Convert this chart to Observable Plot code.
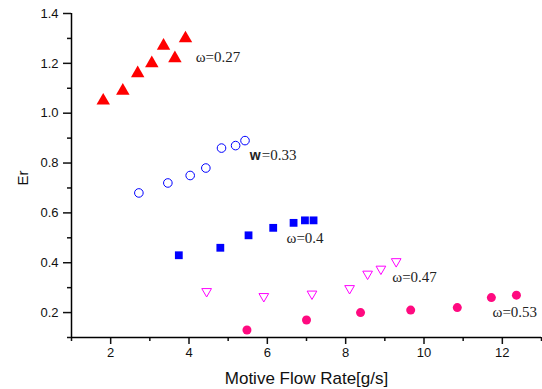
<!DOCTYPE html>
<html>
<head>
<meta charset="utf-8">
<script src="https://cdn.jsdelivr.net/npm/d3@7"></script>
<script src="https://cdn.jsdelivr.net/npm/@observablehq/plot@0.6"></script>
<style>
  html, body { margin: 0; padding: 0; background: #fff; }
  svg { display: block; }
</style>
</head>
<body>
<div id="chart"></div>
<script>
// ω = 0.27 (filled red triangles)
const s027x = [1.81, 2.31, 2.69, 3.05, 3.35, 3.64, 3.91];
const s027y = [1.05, 1.09, 1.16, 1.20, 1.27, 1.22, 1.30];
// ω = 0.33 (open blue circles)
const s033x = [2.72, 3.46, 4.03, 4.43, 4.83, 5.19, 5.43];
const s033y = [0.68, 0.72, 0.75, 0.78, 0.86, 0.87, 0.89];
// ω = 0.4 (filled blue squares)
const s040x = [3.74, 4.80, 5.52, 6.15, 6.67, 6.96, 7.18];
const s040y = [0.43, 0.46, 0.51, 0.54, 0.56, 0.57, 0.57];
// ω = 0.47 (open magenta down-triangles)
const s047x = [4.45, 5.91, 7.14, 8.10, 8.56, 8.90, 9.29];
const s047y = [0.285, 0.265, 0.275, 0.297, 0.355, 0.375, 0.405];
// ω = 0.53 (filled pink circles)
const s053x = [5.48, 7.00, 8.38, 9.66, 10.85, 11.72, 12.36];
const s053y = [0.13, 0.17, 0.20, 0.21, 0.22, 0.26, 0.27];

// series labels (anchored in data units)
const labelText = ["ω=0.27", "=0.33", "ω=0.4", "ω=0.47", "ω=0.53"];
const labelX = [4.17, 5.55, 6.49, 9.19, 11.75];
const labelY = [1.225, 0.831, 0.500, 0.343, 0.203];

// ticks
const xMajor = [2, 4, 6, 8, 10, 12];
const xMinor = [1, 3, 5, 7, 9, 11, 13];
const yMajor = [0.2, 0.4, 0.6, 0.8, 1.0, 1.2, 1.4];
const yMinor = [0.1, 0.3, 0.5, 0.7, 0.9, 1.1, 1.3];

const xTitle = "Motive Flow Rate[g/s]";
const yTitle = "Er";

const zip = (xs, ys) => xs.map((x, i) => ({x, y: ys[i]}));
const labels = labelText.map((t, i) => ({t, x: labelX[i], y: labelY[i]}));

const serif = "'Liberation Serif', 'Times New Roman', serif";
const sans = "'Liberation Sans', Arial, sans-serif";
const blank = () => "";

const chart = Plot.plot({
  width: 542,
  height: 389,
  marginLeft: 71,
  marginRight: 1,
  marginTop: 13,
  marginBottom: 52,
  style: {fontFamily: sans, fontSize: "13px", color: "#111", background: "#fff"},
  x: {domain: [1, 13]},
  y: {domain: [0.1, 1.4]},
  marks: [
    Plot.axisX({ticks: xMinor, tickSize: 4, tickFormat: blank, label: null, strokeWidth: 1.5}),
    Plot.axisX({ticks: xMajor, tickSize: 7, tickPadding: 3, tickFormat: d3.format("d"),
      label: null, fontSize: 13, strokeWidth: 1.5}),
    Plot.axisY({ticks: yMinor, tickSize: 4, tickFormat: blank, label: null, strokeWidth: 1.5}),
    Plot.axisY({ticks: yMajor, tickSize: 8, tickPadding: 5, tickFormat: d3.format(".1f"),
      label: null, fontSize: 13, strokeWidth: 1.5}),
    Plot.ruleX([1], {stroke: "#000", strokeWidth: 1.5}),
    Plot.ruleY([0.1], {stroke: "#000", strokeWidth: 1.5}),
    Plot.text([xTitle], {frameAnchor: "bottom", dy: 41, lineAnchor: "middle", fontSize: 17,
      fontFamily: sans, fill: "#111"}),
    Plot.text([yTitle], {frameAnchor: "left", dx: -48, dy: 10, rotate: -90, lineAnchor: "middle",
      fontSize: 15, fontFamily: sans, fill: "#111"}),
    Plot.dot(zip(s027x, s027y), {x: "x", y: "y", symbol: "triangle", r: 5, fill: "#ff0000"}),
    Plot.dot(zip(s033x, s033y), {x: "x", y: "y", symbol: "circle", r: 4.3, fill: "none", stroke: "#0000ff", strokeWidth: 1}),
    Plot.dot(zip(s040x, s040y), {x: "x", y: "y", symbol: "square", r: 4.4, fill: "#0000ff"}),
    Plot.dot(zip(s047x, s047y), {x: "x", y: "y", symbol: "triangle", r: 3.6, rotate: 180, fill: "none", stroke: "#ff00ff", strokeWidth: 1}),
    Plot.dot(zip(s053x, s053y), {x: "x", y: "y", symbol: "circle", r: 4.5, fill: "#ff0a80"}),
    Plot.text(labels.filter((d, i) => i !== 1), {x: "x", y: "y", text: "t", textAnchor: "start",
      fontFamily: serif, fontSize: 15, fill: "#222"}),
    Plot.text(labels.filter((d, i) => i === 1), {x: "x", y: "y", text: () => "w", textAnchor: "start",
      fontFamily: sans, fontWeight: "bold", fontSize: 14, fill: "#222"}),
    Plot.text(labels.filter((d, i) => i === 1), {x: "x", y: "y", text: "t", textAnchor: "start", dx: 12,
      fontFamily: serif, fontSize: 15, fill: "#222"})
  ]
});
document.getElementById("chart").append(chart);
</script>
</body>
</html>
